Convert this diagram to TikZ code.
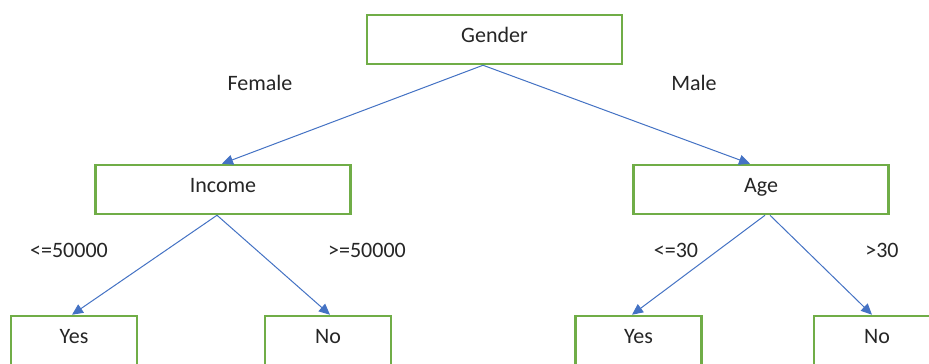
\documentclass[tikz,border=0pt]{standalone}
\usepackage{fontspec}
\setmainfont{Carlito}
\usetikzlibrary{calc,arrows.meta}
\definecolor{boxgreen}{HTML}{70AD47}
\definecolor{lineblue}{HTML}{4472C4}
\begin{document}
\begin{tikzpicture}[x=1pt,y=-1pt,
  every node/.style={font=\fontsize{22}{26}\selectfont, text=black!85},
  box/.style={draw=boxgreen, line width=2.5pt, inner sep=0pt, minimum height=49pt, text height=16pt, text depth=11pt},
  bigbox/.style={box, minimum width=255pt},
  smallbox/.style={box, minimum width=126pt},
  conn/.style={draw=lineblue, line width=1pt, -{Triangle[length=11pt,width=10pt]}},
  lbl/.style={anchor=base, inner sep=0pt}]
\useasboundingbox (0,0) rectangle (929,364);
\clip (0,0) rectangle (929,364);
\fill[white] (0,0) rectangle (929,364);
\node[bigbox] (g) at (494.5,39.5) {Gender};
\node[bigbox] (inc) at (223,189.5) {Income};
\node[bigbox] (age) at (761,189.5) {Age};
\node[smallbox] (y1) at (74,340.5) {Yes};
\node[smallbox] (n1) at (328,340.5) {No};
\node[smallbox] (y2) at (638.5,340.5) {Yes};
\node[smallbox] (n2) at (877,340.5) {No};
\node[lbl] (lf) at (260,90) {Female};
\node[lbl] (lm) at (694,90) {Male};
\node[lbl] (l1) at (69,257) {<=50000};
\node[lbl] (l2) at (367,257) {>=50000};
\node[lbl] (l3) at (676,257) {<=30};
\node[lbl] (l4) at (882,257) {>30};
\draw[conn] ($(g.south)+(-11.5,0)$) -- ($(inc.north)+(-1,0)$);
\draw[conn] ($(g.south)+(-11.5,0)$) -- ($(age.north)+(-11,0)$);
\draw[conn] ($(inc.south)+(-6,0)$) -- ($(y1.north)+(-2,0)$);
\draw[conn] ($(inc.south)+(-6,0)$) -- ($(n1.north)+(2,0)$);
\draw[conn] ($(age.south)+(4,0)$) -- ($(y2.north)+(-6.5,0)$);
\draw[conn] ($(age.south)+(9,0)$) -- ($(n2.north)+(-5,0)$);
\end{tikzpicture}
\end{document}
